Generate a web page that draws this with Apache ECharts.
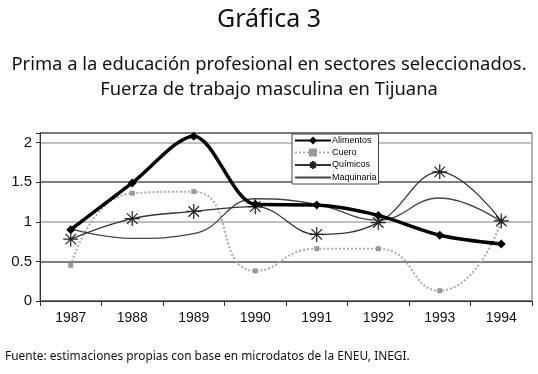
<!DOCTYPE html>
<html><head><meta charset="utf-8">
<script src="https://cdn.jsdelivr.net/npm/echarts@6/dist/echarts.min.js"></script>
<style>html,body{margin:0;padding:0;background:#fff}#c{width:538px;height:374px}</style>
</head><body><div id="c"></div>
<script>
const years = ['1987','1988','1989','1990','1991','1992','1993','1994'];
const alimentos = [0.90, 1.49, 2.08, 1.22, 1.21, 1.08, 0.83, 0.72];
const cuero = [0.45, 1.36, 1.38, 0.38, 0.66, 0.66, 0.13, 1.00];
const quimicos = [0.78, 1.04, 1.13, 1.19, 0.84, 0.99, 1.63, 1.01];
const maquinaria = [0.91, 0.79, 0.85, 1.29, 1.22, 1.02, 1.30, 1.00];
const yTicks = [0, 0.5, 1, 1.5, 2];

const asterisk = 'path://M0,-10L0,10M-10,0L10,0M-7,-7L7,7M-7,7L7,-7';
const chart = echarts.init(document.getElementById('c'));
const tf = '"Noto Sans", sans-serif';
chart.setOption({
  animation: false,
  backgroundColor: '#fff',
  title: [
    {text: 'Gráfica 3', left: 'center', top: 2, textStyle: {fontFamily: tf, fontSize: 25, fontWeight: 'normal', color: '#111'}},
    {text: 'Prima a la educación profesional en sectores seleccionados.', left: 'center', top: 51,
     textStyle: {fontFamily: tf, fontSize: 18.4, fontWeight: 'normal', color: '#111'}},
    {text: 'Fuerza de trabajo masculina en Tijuana', left: 'center', top: 76,
     textStyle: {fontFamily: tf, fontSize: 18.4, fontWeight: 'normal', color: '#111'}},
    {text: 'Fuente: estimaciones propias con base en microdatos de la ENEU, INEGI.', left: 0, top: 346, textStyle: {fontFamily: tf, fontSize: 11.9, fontWeight: 'normal', color: '#111'}}
  ],
  grid: {left: 40, right: 6, top: 133, bottom: 73, show: true, borderColor: '#666', borderWidth: 1},
  legend: {
    orient: 'vertical', left: 292, top: 134, itemWidth: 36, itemHeight: 10, itemGap: 3,
    padding: [2, 2, 2, 2], borderColor: '#444', borderWidth: 1, backgroundColor: '#fff',
    textStyle: {fontFamily: 'Liberation Sans, Arial', fontSize: 9, color: '#000', padding: [0,0,0,-4]},
    data: ['Alimentos', 'Cuero', 'Químicos', 'Maquinaria']
  },
  xAxis: {
    type: 'category', data: years, boundaryGap: true,
    axisLine: {lineStyle: {color: '#333', width: 1}},
    axisTick: {show: true, length: 5, lineStyle: {color: '#333'}},
    axisLabel: {fontFamily: 'Liberation Sans, Arial', fontSize: 14, color: '#111', margin: 10}
  },
  yAxis: {
    type: 'value', min: 0, max: 2.12, interval: 0.5,
    axisLine: {show: true, lineStyle: {color: '#333'}},
    axisTick: {show: true, length: 4, lineStyle: {color: '#333'}},
    axisLabel: {fontFamily: 'Liberation Sans, Arial', fontSize: 15, color: '#111', margin: 8,
      formatter: v => yTicks.some(t => Math.abs(t - v) < 1e-6) ? String(v) : ''},
    splitLine: {lineStyle: {color: ['#666', '#555', '#aaa', '#555', '#aaa', '#666'], width: 1.5}}
  },
  series: [
    {name: 'Alimentos', type: 'line', data: alimentos, smooth: 0.3, symbol: 'diamond', symbolSize: 9,
     lineStyle: {color: '#000', width: 3.5}, itemStyle: {color: '#000'}, z: 5},
    {name: 'Cuero', type: 'line', data: cuero, smooth: 0.55, symbol: 'rect', symbolSize: 5,
     lineStyle: {color: '#aaa', width: 2, type: 'dotted'}, itemStyle: {color: '#999'}, z: 2},
    {name: 'Químicos', type: 'line', data: quimicos, smooth: 0.4, symbol: asterisk, symbolSize: 15,
     lineStyle: {color: '#333', width: 1.3}, itemStyle: {color: 'rgba(0,0,0,0)', borderColor: '#222', borderWidth: 1.2}, z: 4},
    {name: 'Maquinaria', type: 'line', data: maquinaria, smooth: 0.45, symbol: 'circle', showSymbol: false,
     lineStyle: {color: '#444', width: 1.3}, itemStyle: {color: 'rgba(0,0,0,0)', borderWidth: 0}, z: 3}
  ]
});
</script></body></html>
